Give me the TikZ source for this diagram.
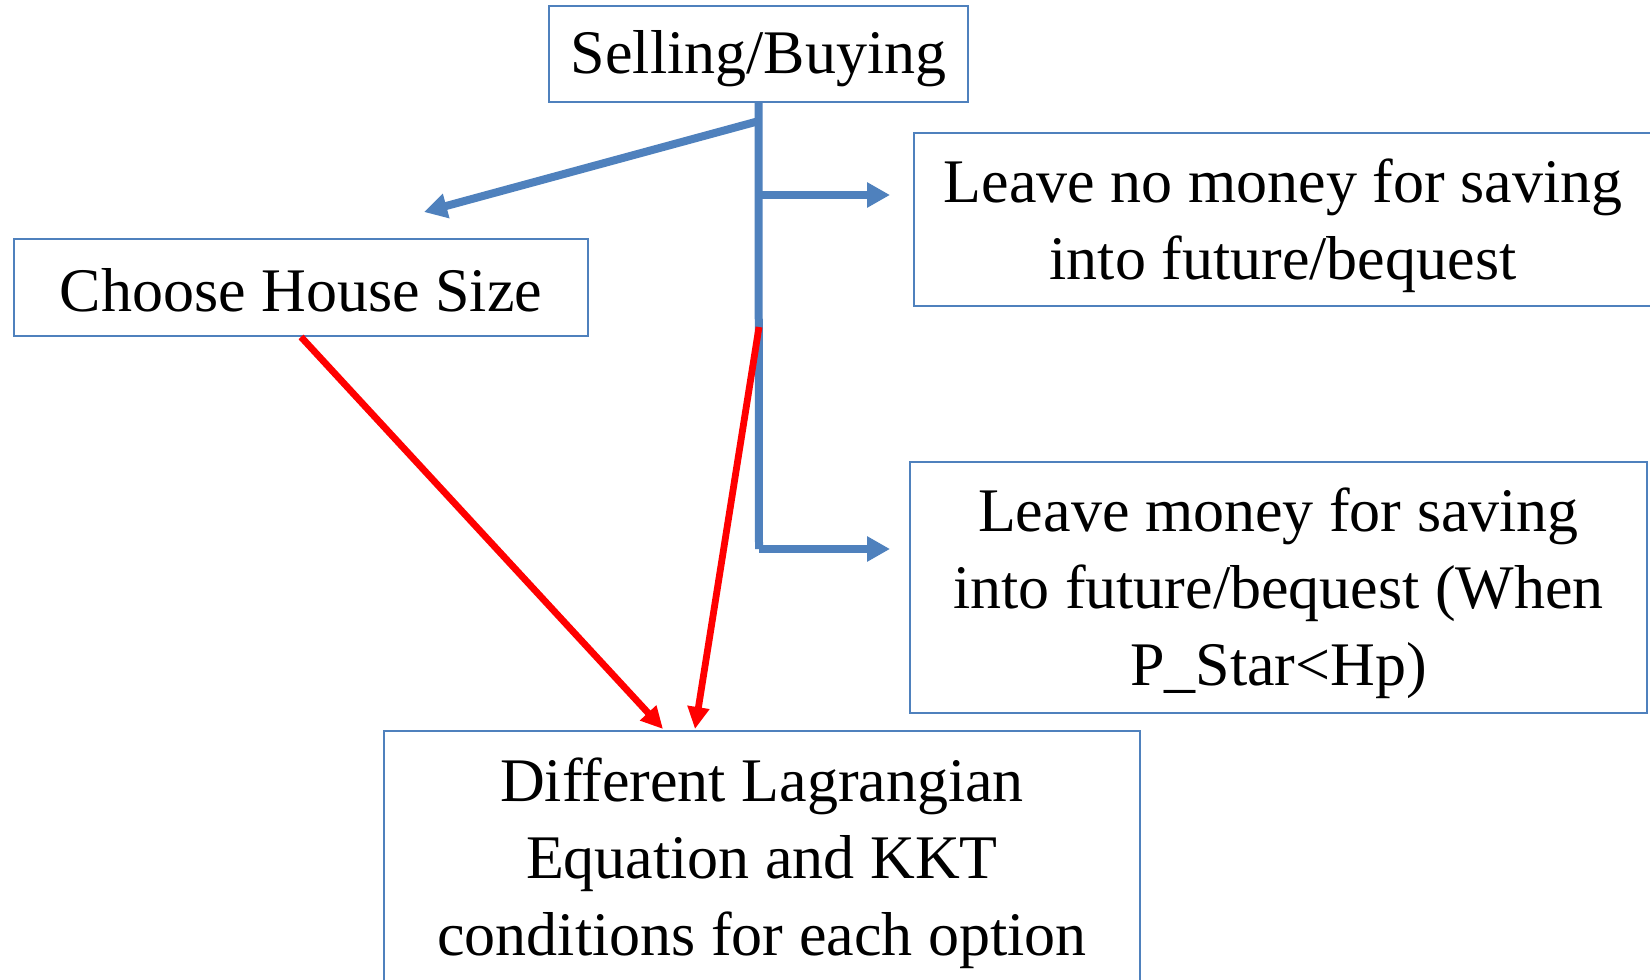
\documentclass[tikz,border=0pt]{standalone}
\usepackage{fontspec}
\setmainfont{Liberation Serif}
\usetikzlibrary{arrows.meta}
\definecolor{boxblue}{HTML}{4F81BD}
\definecolor{arrred}{HTML}{FF0000}
\tikzset{
  frame/.style={draw=boxblue, line width=0.9pt, rectangle, inner sep=0pt},
  label text/.style={align=center, inner sep=0pt, font=\fontsize{31}{38.5}\selectfont},
  bluearr/.style={draw=boxblue, line width=4pt, -{Triangle[length=11.5pt,width=12pt]}},
  blueline/.style={draw=boxblue, line width=4pt},
  redarr/.style={draw=arrred, line width=3.4pt, -{Triangle[length=11pt,width=10.5pt]}}
}
\begin{document}
\begin{tikzpicture}[x=0.5pt,y=-0.5pt]
\useasboundingbox (0,0) rectangle (1650,980);
\clip (0,0) rectangle (1650,980);
\fill[white] (0,0) rectangle (1650,980);

\node[frame, minimum width=209.5pt, minimum height=48pt] (S) at (758.5,54) {};
\node[label text] (St) at ([yshift=-2.5pt]S.center) {Selling/Buying};
\node[frame, minimum width=287pt, minimum height=48.5pt] (C) at (301,287.5) {};
\node[label text] (Ct) at ([yshift=-1.5pt]C.center) {Choose House Size};
\node[frame, minimum width=369pt, minimum height=86.5pt] (L1) at (1283,219.5) {};
\node[label text] (L1t) at ([yshift=-3pt]L1.center) {Leave no money for saving\\into future/bequest};
\node[frame, minimum width=368.5pt, minimum height=125.5pt] (L2) at (1278.5,587.5) {};
\node[label text] (L2t) at ([yshift=-3pt]L2.center) {Leave money for saving\\into future/bequest (When\\P\_Star<Hp)};
\node[frame, minimum width=378pt, minimum height=125pt] (D) at (762,856) {};
\node[label text] (Dt) at ([yshift=-3.5pt]D.center) {Different Lagrangian\\Equation and KKT\\conditions for each option};

\coordinate (j1) at (759,121);
\coordinate (j2) at (759,195);
\coordinate (j3) at (759,549);
\coordinate (jr) at (759,327);
\coordinate (c1) at (424,212);
\coordinate (a2) at (890,195);
\coordinate (a3) at (890,549);
\coordinate (d1) at (663,729);
\coordinate (d2) at (695,729);

\draw[blueline] (S.south) -- (j3);
\draw[bluearr] (j3) -- (a3);
\draw[bluearr] (j2) -- (a2);
\draw[bluearr] (j1) -- (c1);

\draw[redarr] (C.south) -- (d1);
\draw[redarr] (jr) -- (d2);
\end{tikzpicture}
\end{document}
